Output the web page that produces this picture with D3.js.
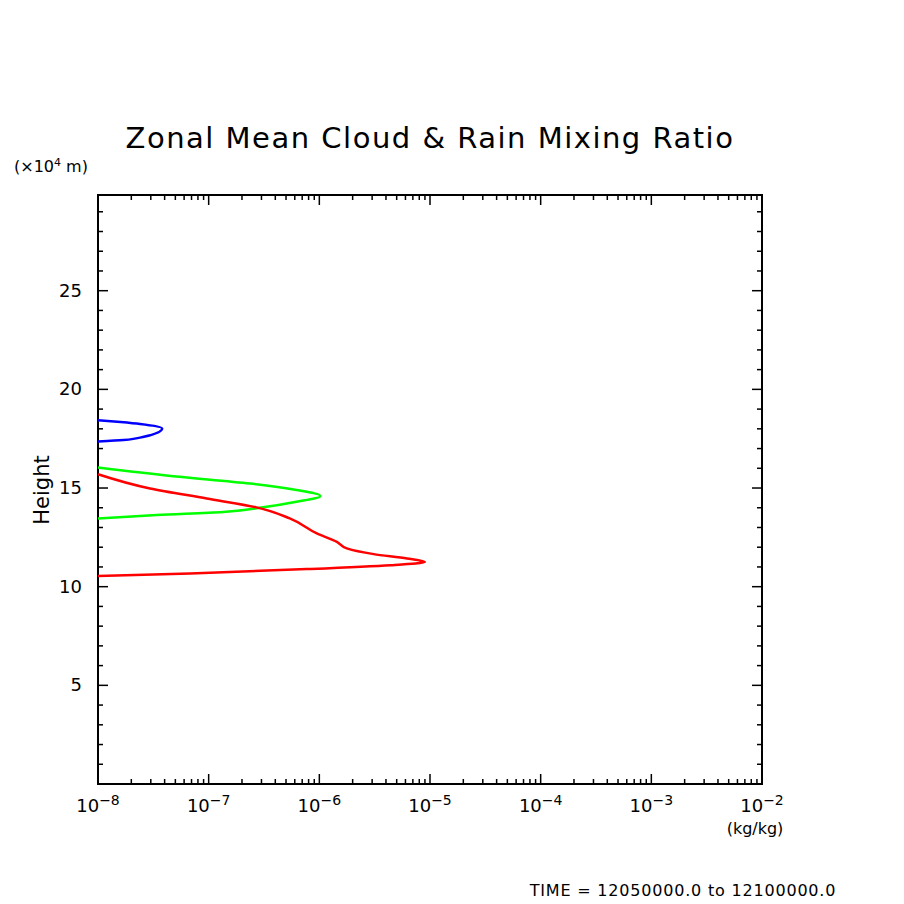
<!DOCTYPE html>
<html><head><meta charset="utf-8">
<script src="https://cdn.jsdelivr.net/npm/d3@7"></script>
<style>body{margin:0;background:#fff}text{font-family:"DejaVu Sans",sans-serif}</style>
</head><body>
<svg id="chart" width="904" height="904"></svg>
<script>
// heights in 10^4 m, values in kg/kg
const blue = [[17.36, 1e-8], [17.43, 1.7e-8], [17.6, 2.6e-8], [18.02, 3.8e-8], [18.24, 2.4e-8], [18.34, 1.6e-8], [18.44, 1e-8]];
const green = [[13.46, 1e-8], [13.63, 3.4e-8], [13.79, 1.35e-7], [14.02, 3.1e-7], [14.3, 6.2e-7], [14.6, 1.02e-6],
  [14.9, 6.2e-7], [15.23, 2.36e-7], [15.6, 4.8e-8], [16.04, 1e-8]];
const red = [[10.54, 1e-8], [10.67, 6.8e-8], [10.89, 7.7e-7], [11.09, 4.4e-6], [11.25, 9e-6], [11.43, 6.2e-6],
  [11.65, 3.1e-6], [11.94, 1.77e-6], [12.27, 1.44e-6], [12.7, 9.5e-7], [13.46, 5.4e-7], [14.02, 2.7e-7],
  [14.47, 9.6e-8], [14.98, 2.95e-8], [15.7, 1e-8]];
const xTicks = [-8, -7, -6, -5, -4, -3, -2];
const yTicks = [5, 10, 15, 20, 25];

const svg = d3.select('#chart');
const L = 98, R = 762, T = 195, B = 784;
const x = d3.scaleLog().domain([1e-8, 1e-2]).range([L, R]);
const y = d3.scaleLinear().domain([0, 29.85]).range([B, T]);

svg.append('rect').attr('x', L).attr('y', T).attr('width', R - L).attr('height', B - T)
  .attr('fill', 'none').attr('stroke', '#000').attr('stroke-width', 2);

const tk = svg.append('g').attr('stroke', '#000').attr('stroke-width', 1.5);
for (let e = -8; e < -2; e += 1) {
  for (let m = 1; m < 10; m += 1) {
    const px = x(m * 10 ** e);
    const len = m === 1 ? 10 : 5;
    tk.append('line').attr('x1', px).attr('x2', px).attr('y1', B).attr('y2', B - len);
    tk.append('line').attr('x1', px).attr('x2', px).attr('y1', T).attr('y2', T + len);
  }
}
for (let v = 1; v < 30; v += 1) {
  const py = y(v);
  const len = v % 5 === 0 ? 10 : 5;
  tk.append('line').attr('x1', L).attr('x2', L + len).attr('y1', py).attr('y2', py);
  tk.append('line').attr('x1', R).attr('x2', R - len).attr('y1', py).attr('y2', py);
}

svg.selectAll('.xl').data(xTicks).enter().append('text')
  .attr('x', d => x(10 ** d)).attr('y', B + 28).attr('text-anchor', 'middle').attr('font-size', 18)
  .each(function (d) {
    const t = d3.select(this);
    t.append('tspan').text('10');
    t.append('tspan').attr('dy', -7).attr('font-size', 14).text('\u2212' + (-d));
  });
svg.selectAll('.yl').data(yTicks).enter().append('text')
  .attr('x', L - 16).attr('y', d => y(d) + 6).attr('text-anchor', 'end').attr('font-size', 18).text(d => d);

// every series is sorted by height, so a monotone-in-y curve keeps the shape smooth
[[blue, '#0000ff'], [green, '#00ff00'], [red, '#ff0000']].forEach(([data, c]) => {
  svg.append('path').datum(data)
    .attr('d', d3.line().x(d => x(d[1])).y(d => y(d[0])).curve(d3.curveMonotoneY))
    .attr('fill', 'none').attr('stroke', c).attr('stroke-width', 2.5).attr('stroke-linejoin', 'round');
});

svg.append('text').attr('x', 430).attr('y', 148).attr('text-anchor', 'middle').attr('font-size', 29)
  .attr('letter-spacing', 1.5).text('Zonal Mean Cloud & Rain Mixing Ratio');
const u = svg.append('text').attr('x', 14).attr('y', 172).attr('font-size', 16);
u.append('tspan').text('(\u00d710');
u.append('tspan').attr('dy', -6).attr('font-size', 11).text('4');
u.append('tspan').attr('dy', 6).text(' m)');
svg.append('text').attr('transform', 'translate(49,490) rotate(-90)').attr('text-anchor', 'middle')
  .attr('font-size', 21).text('Height');
svg.append('text').attr('x', 755).attr('y', 834).attr('text-anchor', 'middle').attr('font-size', 16).text('(kg/kg)');
svg.append('text').attr('x', 683).attr('y', 896).attr('text-anchor', 'middle').attr('font-size', 16)
  .attr('letter-spacing', 0.8).text('TIME = 12050000.0 to 12100000.0');
</script>
</body></html>
